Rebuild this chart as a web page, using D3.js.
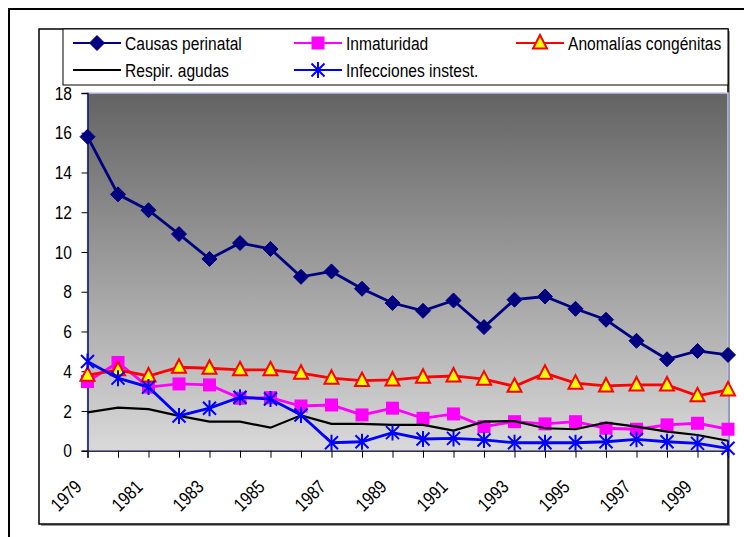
<!DOCTYPE html>
<html>
<head>
<meta charset="utf-8">
<script src="https://cdn.jsdelivr.net/npm/d3@7"></script>
<style>
  body { margin: 0; background: #fff; }
  svg text { font-family: 'Liberation Sans', Arial, sans-serif; font-size: 19px; fill: #000; }
</style>
</head>
<body>
<div id="chart"></div>
<script>
// data
const years = d3.range(1979, 2001);
const yTicks = [0, 2, 4, 6, 8, 10, 12, 14, 16, 18];
const perinatal = [15.8, 12.9, 12.1, 10.9, 9.65, 10.45, 10.15, 8.75, 9.02, 8.15, 7.43, 7.04, 7.56, 6.22, 7.6, 7.76, 7.14, 6.59, 5.53, 4.6, 5.02, 4.82];
const inmaturidad = [3.48, 4.44, 3.2, 3.36, 3.31, 2.64, 2.67, 2.25, 2.3, 1.8, 2.14, 1.63, 1.85, 1.21, 1.46, 1.35, 1.46, 1.13, 1.08, 1.3, 1.38, 1.08];
const anomalias = [3.8, 4.07, 3.76, 4.2, 4.15, 4.07, 4.07, 3.9, 3.65, 3.53, 3.56, 3.7, 3.76, 3.6, 3.24, 3.9, 3.4, 3.26, 3.31, 3.31, 2.76, 3.06];
const respir = [1.93, 2.17, 2.09, 1.75, 1.46, 1.46, 1.16, 1.78, 1.35, 1.35, 1.3, 1.3, 1.01, 1.46, 1.49, 1.13, 1.08, 1.41, 1.21, 0.96, 0.79, 0.5];
const infecciones = [4.49, 3.65, 3.2, 1.75, 2.14, 2.69, 2.6, 1.8, 0.4, 0.45, 0.91, 0.59, 0.62, 0.54, 0.4, 0.4, 0.4, 0.45, 0.57, 0.45, 0.37, 0.12];

const series = [
    { name: 'Causas perinatal', values: perinatal, color: '#000080', marker: 'diamond' },
    { name: 'Inmaturidad', values: inmaturidad, color: '#ff00ff', marker: 'square' },
    { name: 'Anomalías congénitas', values: anomalias, color: '#ff0000', marker: 'triangle' },
    { name: 'Respir. agudas', values: respir, color: '#000000', marker: 'none' },
    { name: 'Infecciones instest.', values: infecciones, color: '#0000ff', marker: 'star' },
];

// dimension stuff
const width = 744;
const height = 537;
const plot = { left: 87.5, top: 93, right: 728, bottom: 450.7 };
// the original type is a narrow face, so squeeze text horizontally
const squeeze = 'scale(0.82, 1)';

// scales
const scaleX = d3.scaleLinear().domain([1979, 2000]).range([plot.left, plot.right]);
const scaleY = d3.scaleLinear().domain([0, 18]).range([plot.bottom, plot.top]);

const $svg = d3.select('#chart').append('svg')
    .attr('width', width)
    .attr('height', height);

const defs = $svg.append('defs');
const grad = defs.append('linearGradient')
    .attr('id', 'bg')
    .attr('x1', 0).attr('y1', 0).attr('x2', 0).attr('y2', 1);
grad.append('stop').attr('offset', '0%').attr('stop-color', '#636363');
grad.append('stop').attr('offset', '100%').attr('stop-color', '#d9d9d9');

// outer frame (runs off the page)
$svg.append('rect')
    .attr('x', 9).attr('y', 9)
    .attr('width', 800).attr('height', 600)
    .attr('fill', 'none').attr('stroke', '#000').attr('stroke-width', 2);

// chart area with shadow
$svg.append('rect')
    .attr('x', 41).attr('y', 31).attr('width', 689).attr('height', 495)
    .attr('fill', '#9a9a9a');
$svg.append('rect')
    .attr('x', 39).attr('y', 29).attr('width', 689).attr('height', 495)
    .attr('fill', '#fff').attr('stroke', '#000').attr('stroke-width', 1.5);

// plot area
$svg.append('rect')
    .attr('x', plot.left).attr('y', plot.top)
    .attr('width', plot.right - plot.left).attr('height', plot.bottom - plot.top)
    .attr('fill', 'url(#bg)')
    .attr('stroke', '#c4c4f4').attr('stroke-width', 1.5);

// axes
const $yAxis = $svg.append('g')
    .attr('transform', `translate(${plot.left}, 0)`)
    .call(d3.axisLeft(scaleY).tickValues(yTicks).tickSize(6).tickFormat(''));
$yAxis.select('.domain').attr('stroke', '#10104a').attr('stroke-width', 1.5);
$yAxis.selectAll('.tick line').attr('stroke', '#000');

$svg.append('g').selectAll('text')
    .data(yTicks)
    .join('text')
    .attr('transform', d => `translate(72, ${scaleY(d)}) ${squeeze}`)
    .attr('text-anchor', 'end')
    .attr('dy', '0.35em')
    .text(d => d);

const $xAxis = $svg.append('g')
    .attr('transform', `translate(0, ${plot.bottom})`)
    .call(d3.axisBottom(scaleX).tickValues(years).tickSize(7).tickFormat(''));
$xAxis.select('.domain').attr('stroke', '#303048').attr('stroke-width', 1.5);
$xAxis.selectAll('.tick line').attr('stroke', '#000');

// rotated year labels, every other year
$svg.append('g').selectAll('text')
    .data(years.filter(d => (d - 1979) % 2 === 0))
    .join('text')
    .attr('transform', d => `translate(${scaleX(d) - 4.5}, 488) rotate(-45) ${squeeze}`)
    .attr('text-anchor', 'end')
    .text(d => d);

// marker helper
function drawMarker(g, type, color) {
    if (type === 'diamond') {
        g.append('path').attr('d', 'M0,-7.5L7.5,0L0,7.5L-7.5,0Z').attr('fill', color).attr('stroke', color);
    } else if (type === 'square') {
        g.append('rect').attr('x', -6.5).attr('y', -6.5).attr('width', 13).attr('height', 13).attr('fill', color);
    } else if (type === 'triangle') {
        g.append('path').attr('d', 'M0,-8L7,5.5L-7,5.5Z')
            .attr('fill', '#ffff00').attr('stroke', color).attr('stroke-width', 2).attr('stroke-linejoin', 'miter');
    } else if (type === 'star') {
        g.append('path').attr('d', 'M0,-8V8M-6.5,-6.5L6.5,6.5M-6.5,6.5L6.5,-6.5')
            .attr('stroke', color).attr('stroke-width', 2).attr('fill', 'none');
    }
}

const line = d3.line()
    .x((d, i) => scaleX(years[i]))
    .y(d => scaleY(d));

const $vis = $svg.append('g').attr('class', 'g-vis');
series.forEach(s => {
    const $g = $vis.append('g');
    $g.append('path')
        .datum(s.values)
        .attr('d', line)
        .attr('fill', 'none')
        .attr('stroke', s.color)
        .attr('stroke-width', s.marker === 'none' ? 2.2 : 2.8);
    s.values.forEach((v, i) => {
        const $m = $g.append('g').attr('transform', `translate(${scaleX(years[i])}, ${scaleY(v)})`);
        drawMarker($m, s.marker, s.color);
    });
});

// legend
const $legend = $svg.append('g');
$legend.append('rect')
    .attr('x', 63).attr('y', 29).attr('width', 665).attr('height', 56)
    .attr('fill', '#fff').attr('stroke', '#000').attr('stroke-width', 1);
const legendPos = [[73, 43], [294, 43], [516, 43], [73, 70], [294, 70]];
series.forEach((s, i) => {
    const [lx, ly] = legendPos[i];
    const $item = $legend.append('g').attr('transform', `translate(${lx}, ${ly})`);
    $item.append('line')
        .attr('x1', 0).attr('x2', 48).attr('y1', 0).attr('y2', 0)
        .attr('stroke', s.color).attr('stroke-width', 2);
    const $m = $item.append('g').attr('transform', 'translate(24, 0)');
    drawMarker($m, s.marker, s.color);
    $item.append('text')
        .attr('transform', `translate(52, 0) ${squeeze}`)
        .attr('dy', '0.35em')
        .text(s.name);
});
</script>
</body>
</html>
